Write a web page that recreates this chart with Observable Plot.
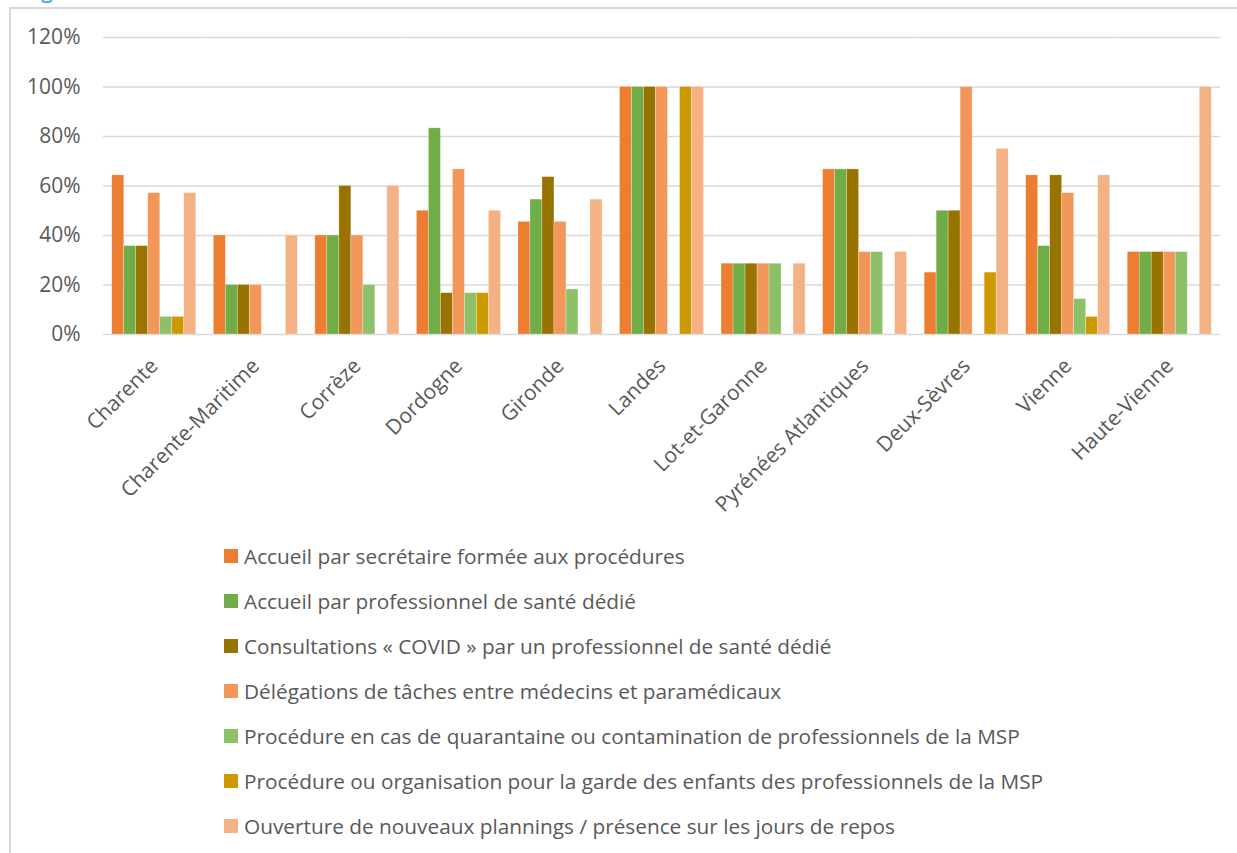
<!DOCTYPE html>
<html lang="fr">
<head>
<meta charset="utf-8">
<script src="https://cdn.jsdelivr.net/npm/d3@7"></script>
<script src="https://cdn.jsdelivr.net/npm/@observablehq/plot@0.6"></script>
<style>
  html, body { margin: 0; padding: 0; background: #fff; }
  #page { position: relative; width: 1237px; height: 853px; overflow: hidden; font-family: "Open Sans", sans-serif; }
  #caption { position: absolute; left: 25px; top: -22px; font-size: 21px; line-height: 24px; color: #2E9BD6; white-space: nowrap; }
  #frame { position: absolute; left: 9px; top: 7px; right: -4px; bottom: -4px; border-left: 2px solid #D9D9D9; border-top: 2px solid #D9D9D9; }
  #chart { position: absolute; left: 0; top: 0; }
  #legend { position: absolute; left: 224px; top: 533px; }
  .row { display: flex; align-items: center; height: 45px; font-size: 20.8px; color: #595959; white-space: nowrap; }
  .sw { width: 14px; height: 14px; margin-right: 6px; flex: none; }
</style>
</head>
<body>
<div id="page">
  <div id="caption">Figure</div>
  <div id="frame"></div>
  <div id="chart"></div>
  <div id="legend"></div>
</div>
<script>
// Départements of Nouvelle-Aquitaine
const departements = [
  "Charente", "Charente-Maritime", "Corrèze", "Dordogne", "Gironde", "Landes",
  "Lot-et-Garonne", "Pyrénées Atlantiques", "Deux-Sèvres", "Vienne", "Haute-Vienne"
];

// Organisational measures (series)
const mesures = [
  "Accueil par secrétaire formée aux procédures",
  "Accueil par professionnel de santé dédié",
  "Consultations « COVID » par un professionnel de santé dédié",
  "Délégations de tâches entre médecins et paramédicaux",
  "Procédure en cas de quarantaine ou contamination de professionnels de la MSP",
  "Procédure ou organisation pour la garde des enfants des professionnels de la MSP",
  "Ouverture de nouveaux plannings / présence sur les jours de repos"
];

// Share of MSP per département, one array per measure (same order as departements)
const accueilSecretaire    = [0.643, 0.40, 0.40, 0.500, 0.455, 1.00, 0.286, 0.667, 0.25, 0.643, 0.333];
const accueilProfessionnel = [0.357, 0.20, 0.40, 0.833, 0.545, 1.00, 0.286, 0.667, 0.50, 0.357, 0.333];
const consultationsCovid   = [0.357, 0.20, 0.60, 0.167, 0.636, 1.00, 0.286, 0.667, 0.50, 0.643, 0.333];
const delegationsTaches    = [0.571, 0.20, 0.40, 0.667, 0.455, 1.00, 0.286, 0.333, 1.00, 0.571, 0.333];
const procedureQuarantaine = [0.071, 0.00, 0.20, 0.167, 0.182, 0.00, 0.286, 0.333, 0.00, 0.143, 0.333];
const gardeEnfants         = [0.071, 0.00, 0.00, 0.167, 0.000, 1.00, 0.000, 0.000, 0.25, 0.071, 0.000];
const nouveauxPlannings    = [0.571, 0.40, 0.60, 0.500, 0.545, 1.00, 0.286, 0.333, 0.75, 0.643, 1.000];

const valeurs = [
  accueilSecretaire, accueilProfessionnel, consultationsCovid, delegationsTaches,
  procedureQuarantaine, gardeEnfants, nouveauxPlannings
];

const couleurs = ["#ED7D31", "#70AD47", "#997300", "#F1975A", "#8DC168", "#CC9A00", "#F4B183"];

const yTicks = [0, 0.2, 0.4, 0.6, 0.8, 1.0, 1.2];

const rows = departements.flatMap((dept, i) =>
  mesures.map((mesure, j) => ({dept, mesure, value: valeurs[j][i]}))
);

const pct = d3.format(".0%");

const chart = Plot.plot({
  width: 1237,
  height: 530,
  marginLeft: 103,
  marginRight: 17,
  marginTop: 37,
  marginBottom: 196,
  style: {fontFamily: "'Open Sans', sans-serif", fontSize: "21px", color: "#595959", background: "transparent", overflow: "visible"},
  fx: {domain: departements, padding: 0, round: false, label: null},
  x: {domain: mesures, paddingInner: 0, paddingOuter: 0.73, round: false, axis: null},
  y: {domain: [0, 1.2], label: null},
  color: {domain: mesures, range: couleurs},
  marks: [
    Plot.ruleY(yTicks, {stroke: "#D9D9D9", strokeWidth: 1.6}),
    Plot.barY(rows, {
      fx: "dept", x: "mesure", y: "value", fill: "mesure",
      stroke: "#ffffff", strokeWidth: 0.6, strokeOpacity: 0.45
    }),
    Plot.axisY({ticks: yTicks, tickFormat: pct, tickSize: 0, tickPadding: 23, label: null, fill: "#595959"}),
    Plot.axisFx({anchor: "bottom", tickRotate: -45, tickSize: 0, tickPadding: 28, label: null, fill: "#595959"})
  ]
});
document.getElementById("chart").appendChild(chart);

// Legend below the plot, one line per measure
const legend = document.getElementById("legend");
mesures.forEach((m, j) => {
  const row = document.createElement("div");
  row.className = "row";
  const sw = document.createElement("span");
  sw.className = "sw";
  sw.style.background = couleurs[j];
  const label = document.createElement("span");
  label.textContent = m;
  row.append(sw, label);
  legend.appendChild(row);
});
</script>
</body>
</html>
